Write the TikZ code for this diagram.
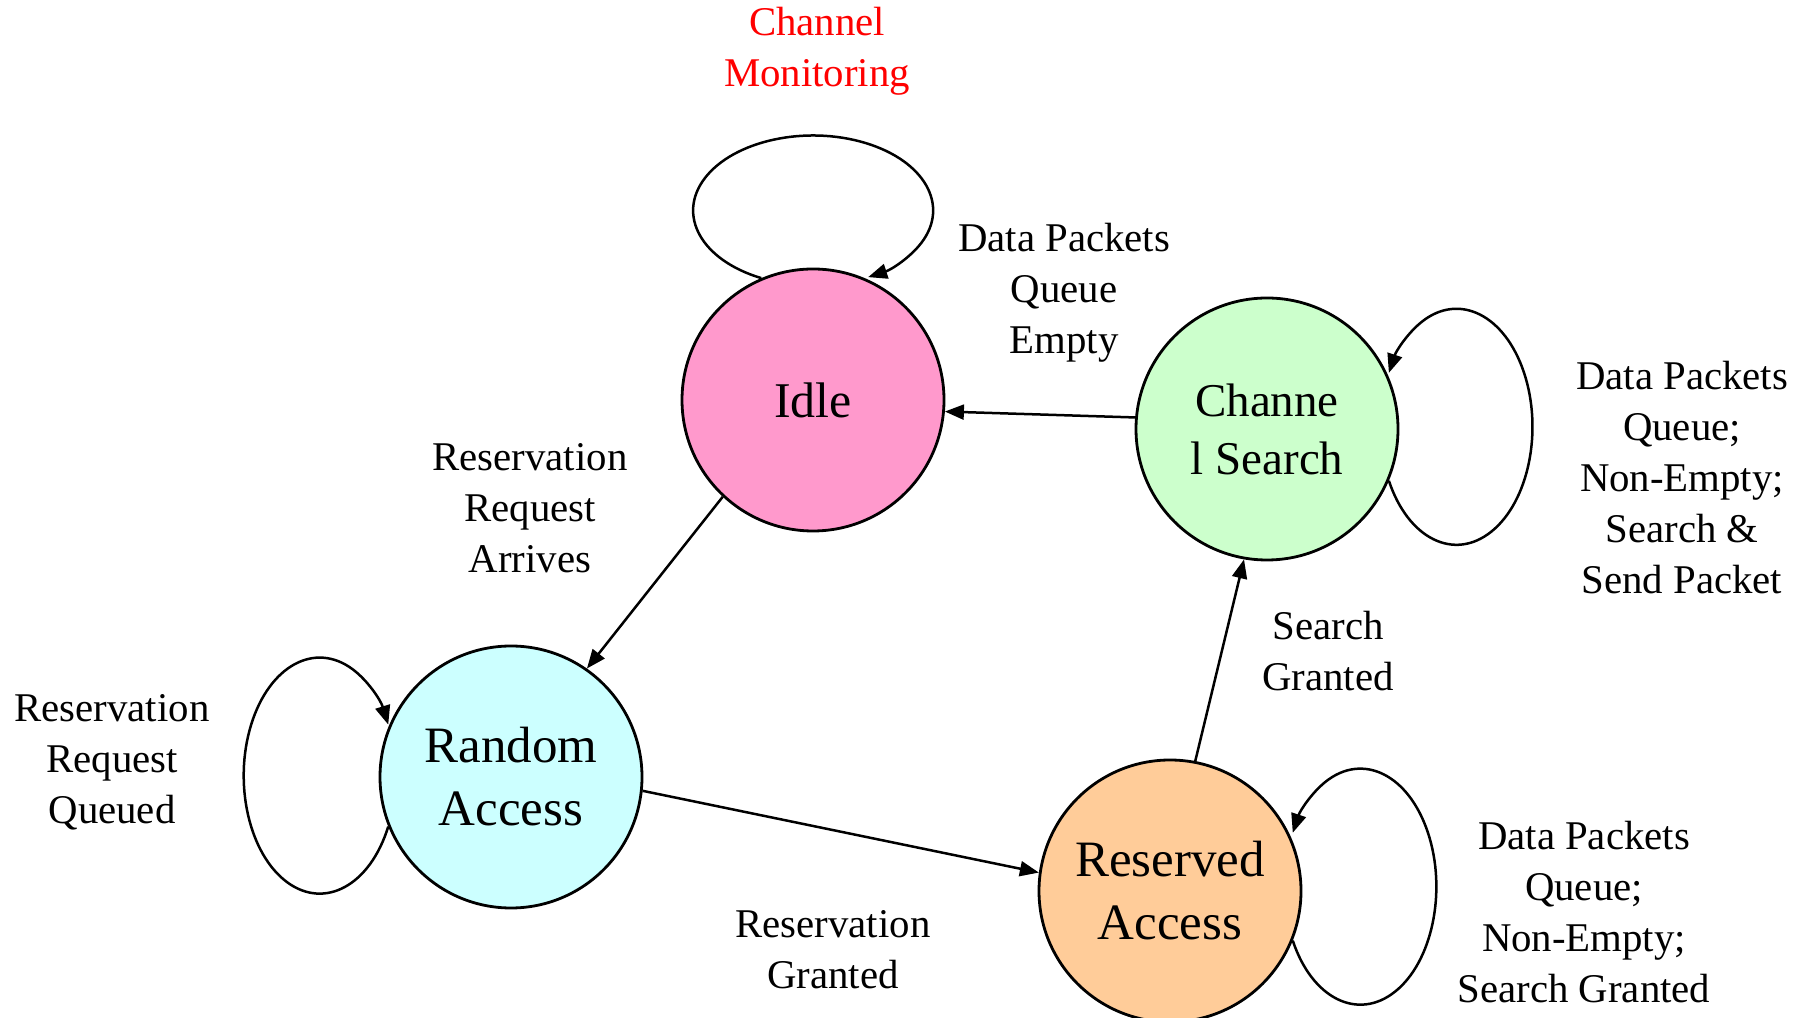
\documentclass[tikz,border=0pt]{standalone}
\usepackage{fontspec}
\setmainfont{Liberation Serif}
\usetikzlibrary{arrows.meta}
\definecolor{idlec}{HTML}{FF99CC}
\definecolor{chanc}{HTML}{CCFFCC}
\definecolor{randc}{HTML}{CCFFFF}
\definecolor{resc}{HTML}{FFCC99}
\definecolor{redtxt}{HTML}{FF0000}
\begin{document}
\begin{tikzpicture}[x=1pt,y=1pt,
  state/.style={circle,draw=black,line width=2.8pt,minimum size=262pt,inner sep=0pt,align=center},
  bigtxt/.style={font=\fontsize{51}{63}\selectfont},
  lbl/.style={align=center,inner sep=0pt,font=\fontsize{40.8}{51}\selectfont},
  arr/.style={line width=2.5pt,-{Triangle[length=19pt,width=15pt]}}
]
\useasboundingbox[fill=white] (0,0) rectangle (1809,1017);

\node[state,fill=idlec,font=\fontsize{50}{60}\selectfont] (idle) at (813,617) {Idle};
\node[state,fill=chanc,font=\fontsize{47}{58}\selectfont] (chan) at (1267,588) {Channe\\l Search};
\node[state,fill=randc,bigtxt] (rand) at (511,240) {Random\\Access};
\node[state,fill=resc,bigtxt] (res) at (1170,126) {Reserved\\Access};

% edges
\draw[arr] (idle.227) -- (rand.55);
\draw[arr] (chan.175) -- (idle.-5);
\draw[arr] (rand.-6) -- (res.172);
\draw[arr] (res.79) -- (chan.260);

% self loops
\draw[arr] (idle.113.5) arc[start angle=244.4, end angle=-62.7, x radius=120pt, y radius=75pt];
\draw[arr] (chan.-23.5) arc[start angle=207.2, end angle=512.8, x radius=76pt, y radius=118pt];
\draw[arr] (rand.202.5) arc[start angle=-25.6, end angle=-334.4, x radius=76pt, y radius=118pt];
\draw[arr] (res.-22.5) arc[start angle=207.2, end angle=512.8, x radius=76pt, y radius=118pt];

% labels
\node[lbl,text=redtxt] (lmon) at (817,966) {Channel\\Monitoring};
\node[lbl] (lempty) at (1064,724) {Data Packets\\Queue\\Empty};
\node[lbl] (larr) at (530,509) {Reservation\\Request\\Arrives};
\node[lbl] (lsend) at (1682,539) {Data Packets\\Queue;\\Non-Empty;\\Search \&\\Send Packet};
\node[lbl] (lsg) at (1328,366) {Search\\Granted};
\node[lbl] (lq) at (112,255) {Reservation\\Request\\Queued};
\node[lbl] (lrg) at (833,67) {Reservation\\Granted};
\node[lbl] (lres) at (1584,105) {Data Packets\\Queue;\\Non-Empty;\\Search Granted};
\end{tikzpicture}
\end{document}
